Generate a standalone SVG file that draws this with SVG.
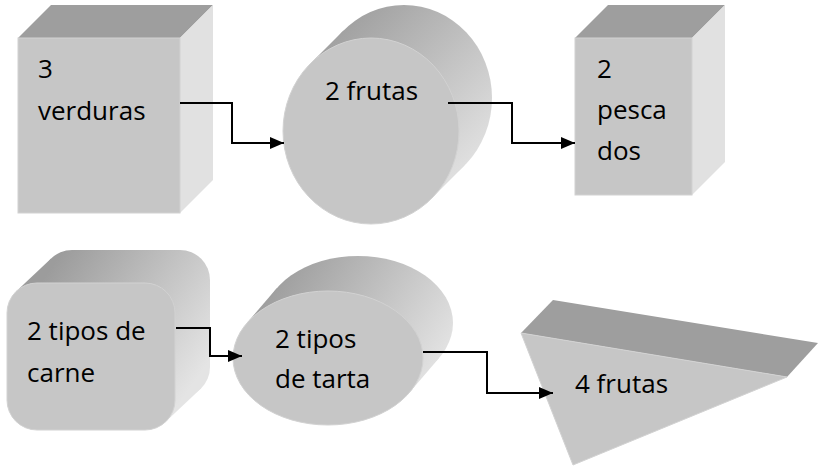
<svg xmlns="http://www.w3.org/2000/svg" width="825" height="468" viewBox="0 0 825 468">
<defs>
<style>
.front{fill:#c6c6c6;stroke:#d2d2d2;stroke-width:1}
.top{fill:#9e9e9e}
.right{fill:#e1e1e1}
.lbl{font-family:"Open Sans","DejaVu Sans",sans-serif;font-size:26px;fill:#000}
.conn{fill:none;stroke:#000;stroke-width:2}
</style>
<linearGradient id="g1" gradientUnits="userSpaceOnUse" x1="320" y1="20" x2="480" y2="180">
<stop offset="0" stop-color="#9a9a9a"/><stop offset="1" stop-color="#e6e6e6"/>
</linearGradient>
<linearGradient id="g2" gradientUnits="userSpaceOnUse" x1="270" y1="270" x2="440" y2="380">
<stop offset="0" stop-color="#9a9a9a"/><stop offset="1" stop-color="#e6e6e6"/>
</linearGradient>
<linearGradient id="g3" gradientUnits="userSpaceOnUse" x1="60" y1="255" x2="210" y2="360">
<stop offset="0" stop-color="#9c9c9c"/><stop offset="1" stop-color="#e4e4e4"/>
</linearGradient>
<marker id="arr" markerUnits="userSpaceOnUse" markerWidth="15" markerHeight="13" refX="14" refY="6" orient="auto">
<path d="M0,0 L14,6 L0,12 z" fill="#000"/>
</marker>
</defs>

<g id="node-verduras">
<polygon class="top" points="18,38 51,5 213,5 180,38"/>
<polygon class="right" points="180,38 213,5 213,180 180,213"/>
<rect class="front" x="18" y="38" width="162" height="175"/>
<text class="lbl" x="38" y="78">3</text>
<text class="lbl" x="38" y="120">verduras</text>
</g>

<g id="node-frutas2">
<ellipse cx="404" cy="98" rx="88" ry="93" fill="url(#g1)"/>
<polygon points="310.5,63.4 343.5,30.4 464.5,165.6 431.5,198.6" fill="url(#g1)"/>
<ellipse cx="371" cy="131" rx="88" ry="93" class="front"/>
<text class="lbl" x="325" y="100">2 frutas</text>
</g>

<g id="node-pescados">
<polygon class="top" points="575,38 608,5 725,5 692,38"/>
<polygon class="right" points="692,38 725,5 725,162 692,195"/>
<rect class="front" x="575" y="38" width="117" height="157"/>
<text class="lbl" x="597" y="78">2</text>
<text class="lbl" x="597" y="119">pesca</text>
<text class="lbl" x="597" y="160">dos</text>
</g>

<g id="node-carne">
<rect x="42" y="250" width="168" height="147" rx="30" fill="url(#g3)"/>
<polygon points="15.8,291.8 50.8,258.8 201.2,388.2 166.2,421.2" fill="url(#g3)"/>
<rect class="front" x="7" y="283" width="168" height="147" rx="30"/>
<text class="lbl" x="27" y="340">2 tipos de</text>
<text class="lbl" x="27" y="382">carne</text>
</g>

<g id="node-tarta">
<ellipse cx="358" cy="323" rx="95" ry="67" fill="url(#g2)"/>
<polygon points="246.7,323.3 276.7,288.3 439.3,357.7 409.3,392.7" fill="url(#g2)"/>
<ellipse cx="328" cy="358" rx="95" ry="67" class="front"/>
<text class="lbl" x="275" y="348">2 tipos</text>
<text class="lbl" x="275" y="388">de tarta</text>
</g>

<g id="node-frutas4">
<polygon class="top" points="521,333 553,300 818,343 787,377"/>
<polygon class="front" points="521,333 787,377 573,465"/>
<text class="lbl" x="575" y="393">4 frutas</text>
</g>

<g id="connectors">
<path class="conn" d="M180,103 H232 V143 H284" marker-end="url(#arr)"/>
<path class="conn" d="M448,103 H512 V143 H575" marker-end="url(#arr)"/>
<path class="conn" d="M176,328 H210 V356 H242" marker-end="url(#arr)"/>
<path class="conn" d="M423,352 H487 V393 H553" marker-end="url(#arr)"/>
</g>
</svg>
